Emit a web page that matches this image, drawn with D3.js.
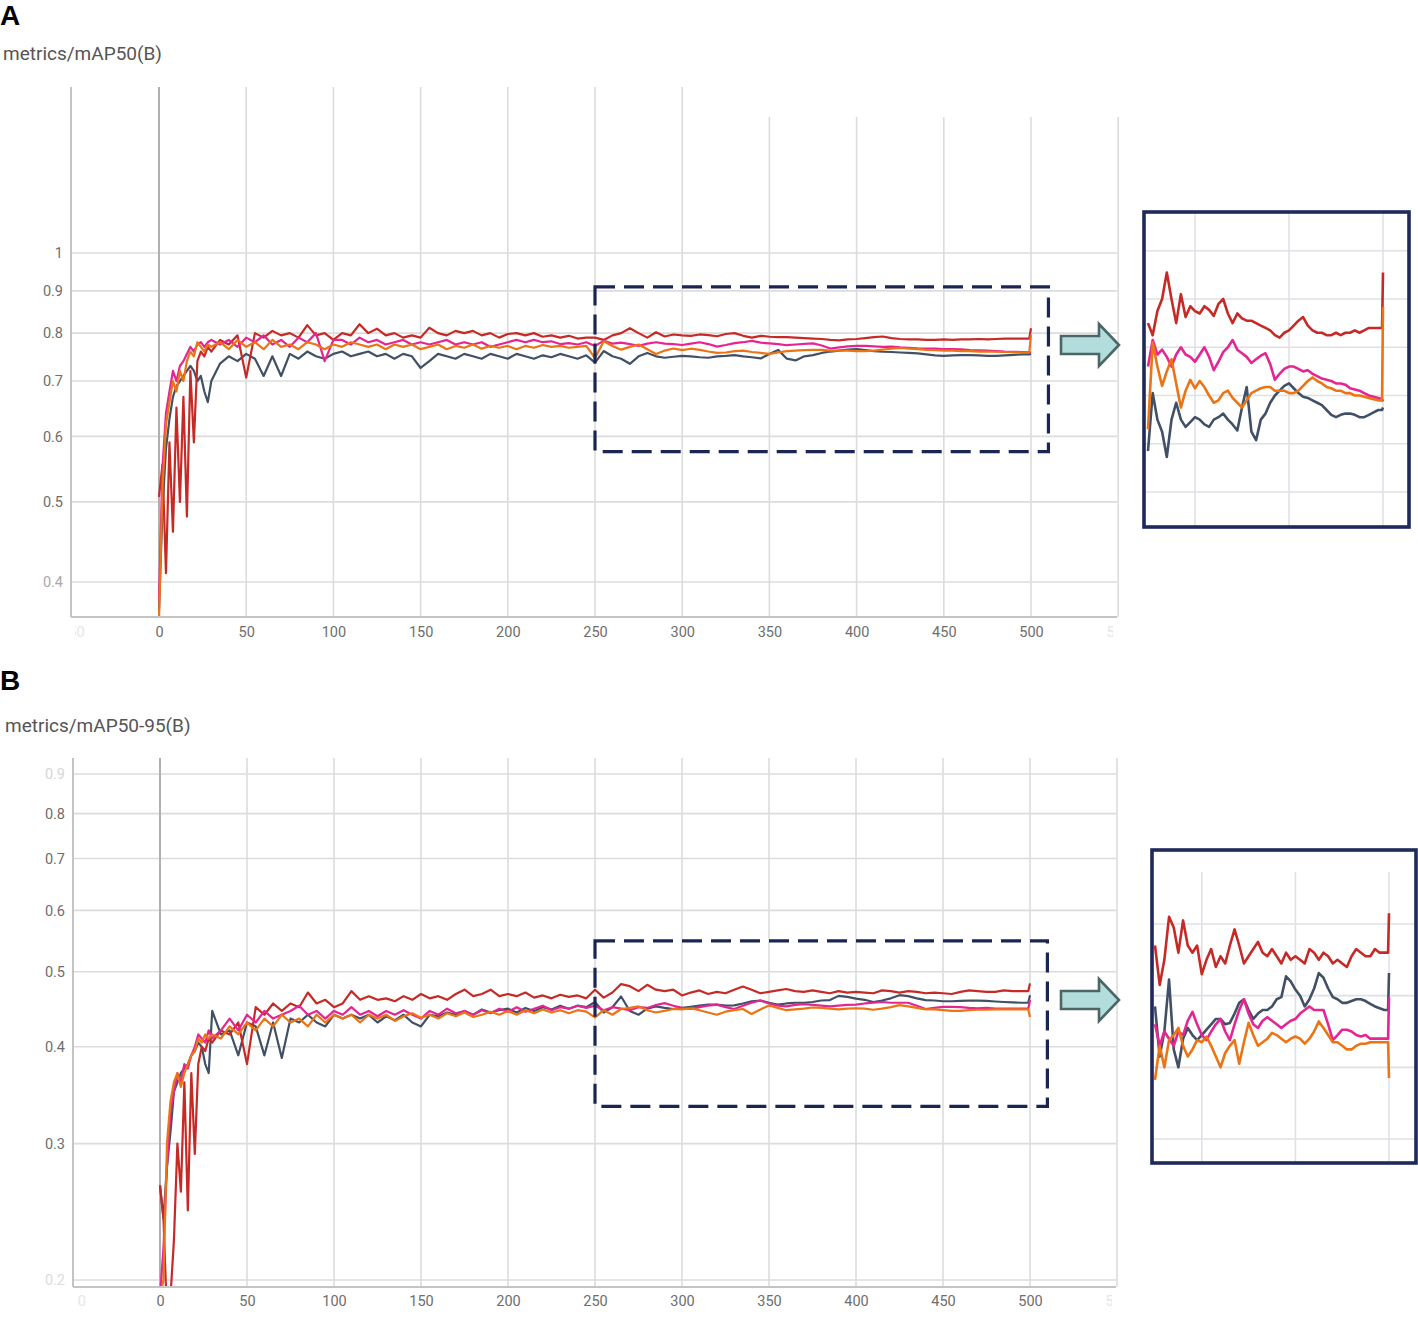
<!DOCTYPE html>
<html>
<head>
<meta charset="utf-8">
<script src="https://cdn.jsdelivr.net/npm/d3@7"></script>
<style>
  body { margin: 0; background: #fff; }
  svg { display: block; font-family: Roboto, "Noto Sans", sans-serif; }
</style>
</head>
<body>
<svg id="chart" width="1418" height="1319"></svg>
<script>
// epochs (every 2 early on, then every 5, last eval point at 500)
const epochs = [0,2,4,6,8,10,12,14,16,18,20,22,24,26,28,30,
  35,40,45,50,55,60,65,70,75,80,85,90,95,100,
  105,110,115,120,125,130,135,140,145,150,155,160,165,170,175,180,185,190,195,200,
  205,210,215,220,225,230,235,240,245,
  250,255,260,265,270,275,280,285,290,295,
  300,305,310,315,320,325,330,335,340,345,
  350,355,360,365,370,375,380,385,390,395,
  400,405,410,415,420,425,430,435,440,445,
  450,455,460,465,470,475,480,485,490,495,
  499,500]

// ---- A: metrics/mAP50(B) ----
const redA = [0.507,0.555,0.41,0.59,0.46,0.65,0.50,0.67,0.48,0.72,0.59,0.74,0.76,0.75,0.77,0.76,
  0.785,0.775,0.795,0.707,0.80,0.79,0.805,0.795,0.80,0.79,0.818,0.795,0.80,0.785,
  0.80,0.795,0.82,0.80,0.81,0.795,0.80,0.79,0.795,0.79,0.812,0.80,0.795,0.805,0.80,0.805,0.795,0.80,0.79,0.798,
  0.80,0.795,0.80,0.792,0.795,0.79,0.794,0.788,0.79,
  0.79,0.785,0.795,0.80,0.811,0.80,0.79,0.802,0.7925,0.797,
  0.795,0.794,0.797,0.7955,0.793,0.798,0.80,0.794,0.79,0.794,
  0.792,0.791,0.791,0.79,0.789,0.788,0.787,0.785,0.784,0.786,
  0.787,0.789,0.791,0.7925,0.789,0.787,0.786,0.786,0.785,0.785,
  0.786,0.785,0.786,0.786,0.787,0.786,0.787,0.788,0.788,0.788,
  0.788,0.811]
const magentaA = [0.38,0.55,0.64,0.68,0.72,0.70,0.73,0.74,0.755,0.77,0.76,0.775,0.78,0.77,0.78,0.785,
  0.775,0.785,0.77,0.79,0.78,0.795,0.775,0.785,0.77,0.79,0.78,0.80,0.74,0.785,
  0.785,0.775,0.79,0.78,0.785,0.775,0.78,0.785,0.775,0.78,0.775,0.78,0.785,0.775,0.78,0.775,0.78,0.77,0.775,0.78,
  0.785,0.78,0.785,0.78,0.782,0.776,0.778,0.775,0.78,
  0.772,0.783,0.777,0.779,0.776,0.772,0.777,0.780,0.777,0.776,
  0.774,0.777,0.780,0.776,0.7705,0.774,0.778,0.78,0.783,0.779,
  0.7775,0.776,0.7735,0.775,0.7765,0.7775,0.773,0.7665,0.769,0.771,
  0.772,0.772,0.771,0.770,0.7705,0.769,0.768,0.767,0.7665,0.766,
  0.765,0.765,0.7645,0.763,0.7625,0.762,0.761,0.760,0.7595,0.759,
  0.7585,0.7575]
const orangeA = [0.36,0.52,0.62,0.66,0.70,0.68,0.72,0.70,0.74,0.76,0.75,0.78,0.77,0.76,0.775,0.77,
  0.78,0.765,0.785,0.77,0.78,0.765,0.785,0.77,0.775,0.765,0.78,0.775,0.765,0.775,
  0.77,0.78,0.775,0.77,0.775,0.765,0.775,0.77,0.775,0.765,0.77,0.775,0.765,0.772,0.768,0.775,0.766,0.772,0.768,0.772,
  0.765,0.772,0.768,0.774,0.77,0.772,0.768,0.77,0.772,
  0.746,0.782,0.772,0.764,0.770,0.775,0.765,0.755,0.762,0.7665,
  0.763,0.766,0.7635,0.760,0.757,0.758,0.761,0.762,0.759,0.757,
  0.755,0.758,0.761,0.762,0.763,0.7635,0.7635,0.762,0.762,0.762,
  0.761,0.761,0.762,0.764,0.766,0.7675,0.766,0.765,0.7635,0.763,
  0.762,0.762,0.761,0.761,0.760,0.760,0.7595,0.759,0.7585,0.758,
  0.758,0.7967]
const slateA = [0.37,0.49,0.58,0.63,0.67,0.69,0.70,0.71,0.72,0.73,0.72,0.70,0.71,0.68,0.66,0.70,
  0.735,0.75,0.74,0.755,0.745,0.71,0.75,0.71,0.755,0.745,0.76,0.75,0.745,0.755,
  0.76,0.75,0.755,0.76,0.75,0.755,0.745,0.755,0.75,0.726,0.74,0.755,0.75,0.745,0.755,0.75,0.745,0.755,0.75,0.745,
  0.755,0.75,0.745,0.752,0.748,0.755,0.75,0.745,0.752,
  0.737,0.761,0.75,0.745,0.7345,0.75,0.757,0.75,0.747,0.749,
  0.751,0.75,0.748,0.747,0.75,0.751,0.7525,0.75,0.748,0.7455,
  0.755,0.7635,0.745,0.7415,0.75,0.7525,0.757,0.76,0.762,0.764,
  0.765,0.763,0.761,0.7595,0.759,0.758,0.757,0.756,0.754,0.752,
  0.751,0.752,0.7525,0.7525,0.752,0.751,0.751,0.752,0.753,0.754,
  0.754,0.755]

// ---- B: metrics/mAP50-95(B) ----
const redB = [0.265,0.24,0.18,0.19,0.225,0.30,0.26,0.36,0.246,0.37,0.291,0.38,0.40,0.395,0.41,0.405,
  0.42,0.415,0.43,0.38,0.45,0.44,0.455,0.445,0.455,0.45,0.47,0.455,0.46,0.45,
  0.455,0.472,0.46,0.465,0.46,0.462,0.458,0.465,0.46,0.468,0.462,0.465,0.46,0.468,0.474,0.465,0.468,0.474,0.465,0.468,
  0.465,0.47,0.463,0.466,0.462,0.467,0.464,0.466,0.462,
  0.474,0.463,0.47,0.482,0.479,0.472,0.481,0.474,0.472,0.474,
  0.466,0.47,0.473,0.468,0.471,0.469,0.474,0.4785,0.474,0.469,
  0.471,0.473,0.475,0.472,0.471,0.473,0.471,0.469,0.472,0.47,
  0.471,0.47,0.469,0.473,0.472,0.47,0.472,0.471,0.469,0.47,
  0.469,0.468,0.471,0.473,0.472,0.471,0.471,0.473,0.472,0.472,
  0.472,0.483]
const magentaB = [0.19,0.22,0.28,0.33,0.35,0.37,0.36,0.38,0.375,0.39,0.40,0.415,0.41,0.405,0.42,0.41,
  0.42,0.435,0.42,0.44,0.43,0.445,0.435,0.44,0.445,0.452,0.44,0.445,0.435,0.445,
  0.44,0.45,0.44,0.445,0.438,0.445,0.44,0.446,0.44,0.435,0.445,0.44,0.448,0.442,0.445,0.44,0.446,0.442,0.448,0.444,
  0.45,0.444,0.448,0.452,0.446,0.45,0.448,0.452,0.449,
  0.452,0.446,0.45,0.448,0.446,0.45,0.449,0.453,0.4555,0.452,
  0.449,0.4476,0.45,0.452,0.4535,0.45,0.4476,0.452,0.456,0.459,
  0.455,0.452,0.451,0.453,0.454,0.453,0.452,0.451,0.452,0.453,
  0.4535,0.455,0.456,0.457,0.456,0.456,0.456,0.452,0.4476,0.449,
  0.4505,0.4505,0.45,0.449,0.4486,0.449,0.448,0.448,0.448,0.448,
  0.448,0.4596]
const orangeB = [0.19,0.20,0.30,0.34,0.36,0.37,0.355,0.37,0.38,0.39,0.395,0.41,0.405,0.415,0.41,0.415,
  0.41,0.425,0.415,0.43,0.42,0.435,0.425,0.44,0.43,0.435,0.425,0.44,0.43,0.44,
  0.435,0.44,0.43,0.44,0.435,0.44,0.432,0.438,0.442,0.436,0.44,0.435,0.442,0.438,0.443,0.437,0.44,0.444,0.44,0.445,
  0.44,0.446,0.442,0.447,0.443,0.446,0.442,0.446,0.444,
  0.4365,0.446,0.44,0.4476,0.449,0.451,0.446,0.443,0.445,0.4476,
  0.447,0.4486,0.446,0.443,0.44,0.444,0.446,0.4476,0.441,0.447,
  0.4524,0.449,0.446,0.447,0.448,0.4496,0.449,0.448,0.447,0.448,
  0.4486,0.448,0.4466,0.448,0.45,0.4528,0.451,0.449,0.447,0.447,
  0.446,0.445,0.445,0.446,0.4466,0.4466,0.447,0.447,0.447,0.447,
  0.447,0.437]
const slateB = [0.265,0.24,0.28,0.31,0.35,0.36,0.37,0.375,0.38,0.39,0.395,0.405,0.40,0.38,0.37,0.445,
  0.415,0.42,0.39,0.43,0.425,0.39,0.43,0.387,0.435,0.43,0.44,0.43,0.425,0.44,
  0.435,0.44,0.435,0.44,0.43,0.438,0.433,0.44,0.43,0.425,0.44,0.438,0.443,0.44,0.445,0.44,0.447,0.443,0.446,0.448,
  0.443,0.449,0.445,0.45,0.447,0.452,0.448,0.452,0.45,
  0.457,0.443,0.45,0.4645,0.445,0.44,0.448,0.451,0.449,0.4476,
  0.449,0.4505,0.452,0.4535,0.4535,0.452,0.4524,0.455,0.458,0.459,
  0.456,0.4535,0.455,0.456,0.456,0.457,0.459,0.4596,0.4654,0.464,
  0.4617,0.46,0.457,0.459,0.462,0.4663,0.465,0.462,0.4596,0.459,
  0.458,0.458,0.4585,0.459,0.459,0.4585,0.4577,0.457,0.4565,0.456,
  0.456,0.4663]

// tick labels
const xTicks = [-50,0,50,100,150,200,250,300,350,400,450,500,550]
const yTicksA = [0.4,0.5,0.6,0.7,0.8,0.9,1]
const yTicksB = [0.2,0.3,0.4,0.5,0.6,0.7,0.8,0.9]
const insetXTicks = [300,400,500]
const insetYTicksA = [0.72,0.74,0.76,0.78,0.80,0.82]
const insetYTicksB = [0.42,0.44,0.46,0.48]

const colours = { slate: '#425066', red: '#c62a26', magenta: '#e52592', orange: '#ec7414' }

const panels = [
  {
    letter: 'A', letterY: 25, title: 'metrics/mAP50(B)', titleX: 3, titleY: 60,
    left: 71, right: 1117, top: 87, bottom: 617, xLabelY: 631,
    x: d3.scaleLinear().domain([0, 500]).range([159, 1031]),
    y: d3.scaleLog().domain([0.4, 1]).range([582, 253]),
    yTicks: yTicksA, faint: { 0.4: '#a9a9a9' },
    gridTop: d => d >= 350 ? 117 : 87,
    series: [
      { key: 'slate', values: slateA }, { key: 'red', values: redA },
      { key: 'magenta', values: magentaA }, { key: 'orange', values: orangeA }
    ],
    box: { x: [250, 510], y: [0.91, 0.575] },
    arrowY: 345,
    inset: {
      left: 1144, top: 212, right: 1409, bottom: 527, vTop: 212,
      x: d3.scaleLinear().domain([250, 500]).range([1148, 1383]),
      y: d3.scaleLinear().domain([0.72, 0.80]).range([492, 299]),
      yTicks: insetYTicksA
    }
  },
  {
    letter: 'B', letterY: 690, title: 'metrics/mAP50-95(B)', titleX: 5, titleY: 732,
    left: 73, right: 1116, top: 758, bottom: 1287, xLabelY: 1300,
    x: d3.scaleLinear().domain([0, 500]).range([160, 1030]),
    y: d3.scaleLog().domain([0.2, 0.9]).range([1280, 774]),
    yTicks: yTicksB, faint: { 0.9: '#d6d6d6', 0.2: '#dcdcdc' },
    gridTop: () => 758,
    series: [
      { key: 'slate', values: slateB }, { key: 'red', values: redB },
      { key: 'magenta', values: magentaB }, { key: 'orange', values: orangeB }
    ],
    box: { x: [250, 510], y: [0.548, 0.335] },
    arrowY: 1000,
    inset: {
      left: 1152, top: 850, right: 1416, bottom: 1163, vTop: 872,
      x: d3.scaleLinear().domain([250, 500]).range([1155, 1389]),
      y: d3.scaleLinear().domain([0.42, 0.48]).range([1139, 924]),
      yTicks: insetYTicksB
    }
  }
]

const svg = d3.select('#chart')
const defs = svg.append('defs')

const drawPanel = (p, i) => {
  const g = svg.append('g').attr('class', 'panel-' + p.letter)

  g.append('text')
    .attr('x', 0).attr('y', p.letterY)
    .attr('font-family', '"Liberation Sans", Arial, sans-serif')
    .attr('font-weight', 'bold').attr('font-size', 28).attr('fill', '#000')
    .text(p.letter)

  g.append('text')
    .attr('x', p.titleX).attr('y', p.titleY)
    .attr('font-size', 19).attr('fill', '#555')
    .text(p.title)

  // grid
  g.append('g').selectAll('line')
    .data(p.yTicks)
    .enter().append('line')
    .attr('x1', p.left).attr('x2', p.right)
    .attr('y1', d => p.y(d)).attr('y2', d => p.y(d))
    .attr('stroke', '#dcdcdc').attr('stroke-width', 1.6)

  g.append('g').selectAll('line')
    .data(xTicks.filter(d => d > -50))
    .enter().append('line')
    .attr('x1', d => p.x(d)).attr('x2', d => p.x(d))
    .attr('y1', d => p.gridTop(d)).attr('y2', p.bottom)
    .attr('stroke', d => d === 0 ? '#b0b0b0' : '#dcdcdc')
    .attr('stroke-width', d => d === 0 ? 2 : 1.6)

  // axis lines
  g.append('line')
    .attr('x1', p.left).attr('x2', p.left).attr('y1', p.top).attr('y2', p.bottom)
    .attr('stroke', '#c4c4c4').attr('stroke-width', 2)
  g.append('line')
    .attr('x1', p.left).attr('x2', p.right).attr('y1', p.bottom).attr('y2', p.bottom)
    .attr('stroke', '#c4c4c4').attr('stroke-width', 2)

  // tick labels
  const yAxis = g.append('g')
    .attr('transform', `translate(${p.left},0)`)
    .call(d3.axisLeft(p.y).tickValues(p.yTicks).tickFormat(d => String(d)).tickSize(0).tickPadding(8))
  yAxis.select('.domain').remove()
  yAxis.selectAll('text')
    .attr('font-family', 'Roboto, sans-serif').attr('font-size', 14.5)
    .attr('fill', d => p.faint[d] || '#6e6e6e')

  // edge labels (-50 / 550) are mostly hidden, as in the screenshot
  const labClip = 'lab-clip-' + i
  defs.append('clipPath').attr('id', labClip)
    .append('rect')
    .attr('x', p.left + 4).attr('y', p.bottom + 2)
    .attr('width', p.right - p.left - 8).attr('height', 30)

  const xAxis = g.append('g')
    .attr('clip-path', `url(#${labClip})`)
    .append('g')
    .attr('transform', `translate(0,${p.xLabelY - 7})`)
    .call(d3.axisBottom(p.x).tickValues(xTicks).tickSize(0).tickPadding(3))
  xAxis.select('.domain').remove()
  xAxis.selectAll('text')
    .attr('font-family', 'Roboto, sans-serif').attr('font-size', 14.5)
    .attr('fill', d => (d < 0 || d > 500) ? '#e6e6e6' : '#6e6e6e')

  // lines
  const clipId = 'plot-clip-' + i
  defs.append('clipPath').attr('id', clipId)
    .append('rect')
    .attr('x', p.left).attr('y', p.top)
    .attr('width', p.right - p.left).attr('height', p.bottom - p.top - 1)

  const line = d3.line()
    .defined(d => d != null && !isNaN(d))
    .x((d, j) => p.x(epochs[j]))
    .y(d => p.y(d))

  g.append('g').attr('clip-path', `url(#${clipId})`)
    .selectAll('path')
    .data(p.series)
    .enter().append('path')
    .attr('d', d => line(d.values))
    .attr('fill', 'none')
    .attr('stroke', d => colours[d.key])
    .attr('stroke-width', 2.2)
    .attr('stroke-linejoin', 'round')

  // dashed zoom box
  const bx = p.box.x.map(p.x), by = p.box.y.map(p.y)
  g.append('rect')
    .attr('x', bx[0]).attr('y', by[0])
    .attr('width', bx[1] - bx[0]).attr('height', by[1] - by[0])
    .attr('fill', 'none').attr('stroke', '#1b2552').attr('stroke-width', 3.2)
    .attr('stroke-dasharray', '20 9')

  // arrow
  const ay = p.arrowY
  const arrow = [[1061, ay - 9], [1099, ay - 9], [1099, ay - 21], [1119, ay],
    [1099, ay + 21], [1099, ay + 9], [1061, ay + 9]]
  g.append('path')
    .attr('d', d3.line()(arrow) + 'Z')
    .attr('fill', '#b3dcdc').attr('stroke', '#4b6664').attr('stroke-width', 2.6)
    .attr('stroke-linejoin', 'miter')

  // inset (zoom of epochs 250-500)
  const ins = p.inset
  const insId = 'inset-clip-' + i
  defs.append('clipPath').attr('id', insId)
    .append('rect')
    .attr('x', ins.left).attr('y', ins.top)
    .attr('width', ins.right - ins.left).attr('height', ins.bottom - ins.top)

  const ig = g.append('g').attr('clip-path', `url(#${insId})`)

  ig.selectAll('line.h')
    .data(ins.yTicks)
    .enter().append('line').attr('class', 'h')
    .attr('x1', ins.left).attr('x2', ins.right)
    .attr('y1', d => ins.y(d)).attr('y2', d => ins.y(d))
    .attr('stroke', '#e0e0e6').attr('stroke-width', 1.6)

  ig.selectAll('line.v')
    .data(insetXTicks)
    .enter().append('line').attr('class', 'v')
    .attr('x1', d => ins.x(d)).attr('x2', d => ins.x(d))
    .attr('y1', ins.vTop).attr('y2', ins.bottom)
    .attr('stroke', '#e0e0e6').attr('stroke-width', 1.6)

  const start = epochs.indexOf(250)
  const insetLine = d3.line()
    .x(d => ins.x(d[0]))
    .y(d => ins.y(d[1]))

  ig.selectAll('path')
    .data(p.series)
    .enter().append('path')
    .attr('d', d => insetLine(epochs.slice(start).map((e, j) => [e, d.values[start + j]])))
    .attr('fill', 'none')
    .attr('stroke', d => colours[d.key])
    .attr('stroke-width', 2.6)
    .attr('stroke-linejoin', 'round')

  g.append('rect')
    .attr('x', ins.left).attr('y', ins.top)
    .attr('width', ins.right - ins.left).attr('height', ins.bottom - ins.top)
    .attr('fill', 'none').attr('stroke', '#1f2a5a').attr('stroke-width', 3.6)
}

panels.forEach(drawPanel)
</script>
</body>
</html>
